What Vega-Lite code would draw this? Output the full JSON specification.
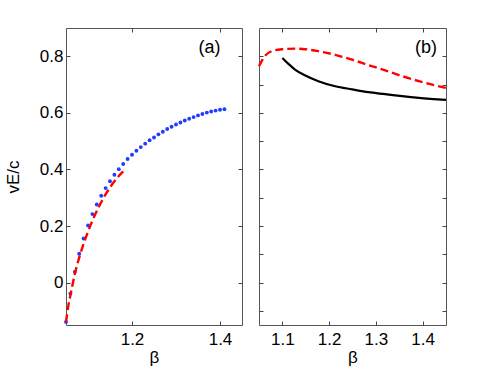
{
  "$schema": "https://vega.github.io/schema/vega-lite/v6.json",
  "background": "white",
  "padding": {"left": 3, "top": 27, "right": 5, "bottom": 5},
  "bounds": "flush",
  "spacing": 17,
  "datasets": {
    "dots": [
      {"b": 1.05, "v": -0.139}, {"b": 1.06, "v": -0.039}, {"b": 1.07, "v": 0.038}, {"b": 1.08, "v": 0.102},
      {"b": 1.09, "v": 0.156}, {"b": 1.10, "v": 0.202}, {"b": 1.11, "v": 0.242}, {"b": 1.12, "v": 0.276},
      {"b": 1.13, "v": 0.307}, {"b": 1.14, "v": 0.334}, {"b": 1.15, "v": 0.358}, {"b": 1.16, "v": 0.381},
      {"b": 1.17, "v": 0.401}, {"b": 1.18, "v": 0.419}, {"b": 1.19, "v": 0.437}, {"b": 1.20, "v": 0.452},
      {"b": 1.21, "v": 0.466}, {"b": 1.22, "v": 0.479}, {"b": 1.23, "v": 0.491}, {"b": 1.24, "v": 0.503},
      {"b": 1.25, "v": 0.513}, {"b": 1.26, "v": 0.524}, {"b": 1.27, "v": 0.533}, {"b": 1.28, "v": 0.543},
      {"b": 1.29, "v": 0.551}, {"b": 1.30, "v": 0.559}, {"b": 1.31, "v": 0.566}, {"b": 1.32, "v": 0.573},
      {"b": 1.33, "v": 0.579}, {"b": 1.34, "v": 0.585}, {"b": 1.35, "v": 0.591}, {"b": 1.36, "v": 0.596},
      {"b": 1.37, "v": 0.601}, {"b": 1.38, "v": 0.605}, {"b": 1.39, "v": 0.608}, {"b": 1.40, "v": 0.611},
      {"b": 1.41, "v": 0.613}
    ],
    "redA": [
      {"b": 1.05, "v": -0.14}, {"b": 1.055, "v": -0.085}, {"b": 1.06, "v": -0.045}, {"b": 1.07, "v": 0.03},
      {"b": 1.08, "v": 0.088}, {"b": 1.09, "v": 0.137}, {"b": 1.10, "v": 0.18}, {"b": 1.11, "v": 0.219},
      {"b": 1.12, "v": 0.253}, {"b": 1.13, "v": 0.284}, {"b": 1.14, "v": 0.312}, {"b": 1.15, "v": 0.336},
      {"b": 1.16, "v": 0.358}, {"b": 1.17, "v": 0.377}, {"b": 1.18, "v": 0.393}
    ],
    "redB": [
      {"b": 1.05, "v": 0.765}, {"b": 1.063, "v": 0.802}, {"b": 1.077, "v": 0.818}, {"b": 1.099, "v": 0.825},
      {"b": 1.127, "v": 0.827}, {"b": 1.149, "v": 0.825}, {"b": 1.177, "v": 0.818}, {"b": 1.213, "v": 0.805},
      {"b": 1.249, "v": 0.788}, {"b": 1.284, "v": 0.769}, {"b": 1.32, "v": 0.75}, {"b": 1.356, "v": 0.73},
      {"b": 1.392, "v": 0.712}, {"b": 1.427, "v": 0.697}, {"b": 1.45, "v": 0.688}
    ],
    "blackB": [
      {"b": 1.1, "v": 0.794}, {"b": 1.113, "v": 0.773}, {"b": 1.127, "v": 0.753}, {"b": 1.149, "v": 0.732},
      {"b": 1.177, "v": 0.712}, {"b": 1.213, "v": 0.694}, {"b": 1.249, "v": 0.683}, {"b": 1.284, "v": 0.673},
      {"b": 1.32, "v": 0.666}, {"b": 1.356, "v": 0.659}, {"b": 1.392, "v": 0.653}, {"b": 1.45, "v": 0.646}
    ],
    "labA": [{"b": 1.376, "v": 0.83, "t": "(a)"}],
    "labB": [{"b": 1.407, "v": 0.83, "t": "(b)"}]
  },
  "hconcat": [
    {
      "width": 176,
      "height": 297,
      "layer": [
        {
          "data": {"name": "dots"},
          "mark": {"type": "circle", "size": 15, "color": "#1f3cff", "opacity": 1},
          "encoding": {
            "x": {"field": "b", "type": "quantitative", "scale": {"domain": [1.05, 1.45], "nice": false, "zero": false},
                  "axis": {"orient": "bottom", "values": [1.2, 1.4], "format": "~g", "title": "β"}},
            "y": {"field": "v", "type": "quantitative", "scale": {"domain": [-0.15, 0.9], "nice": false, "zero": false},
                  "axis": {"orient": "left", "values": [0, 0.2, 0.4, 0.6, 0.8], "format": "~g", "title": "vE/c"}}
          }
        },
        {
          "data": {"name": "redA"},
          "mark": {"type": "line", "color": "#ff0000", "strokeDash": [8, 4], "strokeWidth": 2.4, "interpolate": "monotone"},
          "encoding": {
            "x": {"field": "b", "type": "quantitative", "scale": {"domain": [1.05, 1.45], "nice": false, "zero": false},
                  "axis": {"orient": "top", "values": [1.2, 1.4], "labels": false, "title": null}},
            "y": {"field": "v", "type": "quantitative", "scale": {"domain": [-0.15, 0.9], "nice": false, "zero": false},
                  "axis": {"orient": "right", "values": [0, 0.2, 0.4, 0.6, 0.8], "labels": false, "title": null}}
          }
        },
        {
          "data": {"name": "labA"},
          "mark": {"type": "text", "fontSize": 18, "align": "center", "baseline": "middle", "color": "#000"},
          "encoding": {
            "x": {"field": "b", "type": "quantitative", "axis": null},
            "y": {"field": "v", "type": "quantitative", "axis": null},
            "text": {"field": "t"}
          }
        }
      ],
      "resolve": {"axis": {"x": "independent", "y": "independent"}}
    },
    {
      "width": 187,
      "height": 297,
      "layer": [
        {
          "data": {"name": "redB"},
          "mark": {"type": "line", "color": "#ff0000", "strokeDash": [8, 4], "strokeWidth": 2.4, "interpolate": "monotone"},
          "encoding": {
            "x": {"field": "b", "type": "quantitative", "scale": {"domain": [1.05, 1.45], "nice": false, "zero": false},
                  "axis": {"orient": "bottom", "values": [1.1, 1.2, 1.3, 1.4], "format": "~g", "title": "β"}},
            "y": {"field": "v", "type": "quantitative", "scale": {"domain": [-0.15, 0.9], "nice": false, "zero": false},
                  "axis": {"orient": "left", "values": [-0.1, 0, 0.1, 0.2, 0.3, 0.4, 0.5, 0.6, 0.7, 0.8], "labels": false, "title": null}}
          }
        },
        {
          "data": {"name": "blackB"},
          "mark": {"type": "line", "color": "#000000", "strokeWidth": 2.2, "interpolate": "monotone"},
          "encoding": {
            "x": {"field": "b", "type": "quantitative", "scale": {"domain": [1.05, 1.45], "nice": false, "zero": false},
                  "axis": {"orient": "top", "values": [1.1, 1.2, 1.3, 1.4], "labels": false, "title": null}},
            "y": {"field": "v", "type": "quantitative", "scale": {"domain": [-0.15, 0.9], "nice": false, "zero": false},
                  "axis": {"orient": "right", "values": [-0.1, 0, 0.1, 0.2, 0.3, 0.4, 0.5, 0.6, 0.7, 0.8], "labels": false, "title": null}}
          }
        },
        {
          "data": {"name": "labB"},
          "mark": {"type": "text", "fontSize": 18, "align": "center", "baseline": "middle", "color": "#000"},
          "encoding": {
            "x": {"field": "b", "type": "quantitative", "axis": null},
            "y": {"field": "v", "type": "quantitative", "axis": null},
            "text": {"field": "t"}
          }
        }
      ],
      "resolve": {"axis": {"x": "independent", "y": "independent"}}
    }
  ],
  "config": {
    "font": "Liberation Sans",
    "view": {"stroke": "#555555", "strokeWidth": 1},
    "axis": {
      "domain": false, "grid": false, "tickSize": -4, "tickColor": "#444444", "tickWidth": 1,
      "labelFontSize": 17, "labelColor": "#000000", "labelFont": "Liberation Sans",
      "titleFontSize": 17, "titleFont": "Liberation Sans", "titleFontWeight": "normal", "titleColor": "#000000",
      "labelPadding": 7, "titlePadding": 17
    },
    "axisX": {"labelPadding": 10, "titlePadding": 2}
  }
}
